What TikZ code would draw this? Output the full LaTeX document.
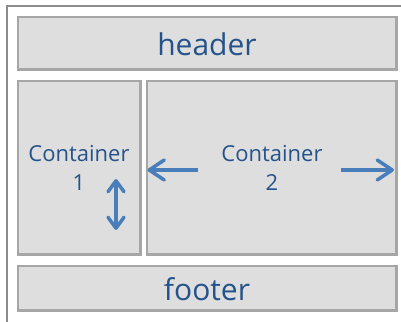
\documentclass[tikz,border=0pt]{standalone}
\usepackage{fontspec}
\setmainfont{Open Sans}
\usetikzlibrary{arrows.meta}
\definecolor{boxfill}{HTML}{DEDEDE}
\definecolor{boxline}{HTML}{A6A6A6}
\definecolor{frameline}{HTML}{8C8C8C}
\definecolor{txt}{HTML}{24528A}
\definecolor{arr}{HTML}{4A7EBB}
\tikzset{
  px/.style={x=1pt,y=-1pt},
  area/.style={draw=boxline,fill=boxfill,line width=2.5pt},
  bigtxt/.style={text=txt,font=\fontsize{30}{36}\selectfont,inner sep=0pt,anchor=base},
  smalltxt/.style={text=txt,font=\fontsize{22}{29}\selectfont,inner sep=0pt,align=center,anchor=north},
  hbarb/.style={draw=arr,line width=3.5pt,-{Straight Barb[length=15pt,width=20pt,round]}},
  vbarb/.style={draw=arr,line width=3.5pt,{Straight Barb[length=11pt,width=16pt,round]}-{Straight Barb[length=11pt,width=16pt,round]}}
}
\begin{document}
\begin{tikzpicture}[px]
\useasboundingbox (0,0) rectangle (401,321);
\begin{scope}
\clip (0,0) rectangle (401,321);
\draw[frameline,line width=2pt] (7,6) rectangle (420,340);
\end{scope}
\draw[area] (18,17) rectangle (396.5,69.5);
\node[bigtxt] (header) at (207,56) {header};
\draw[area] (18,81) rectangle (140.5,254.5);
\draw[area] (147,81) rectangle (396.5,254.5);
\draw[area] (18,266) rectangle (396.5,310.5);
\node[bigtxt] (footer) at (207,300) {footer};
\node[smalltxt] (c1) at (79,145) {Container\\1};
\node[smalltxt] (c2) at (272,145) {Container\\2};
\coordinate (c2w) at (147.5,170);
\coordinate (c2wstart) at (198,170);
\coordinate (c2estart) at (341,170);
\coordinate (c2e) at (394,170);
\coordinate (c1up) at (116,179);
\coordinate (c1down) at (116,230);
\draw[hbarb] (c2wstart) -- (c2w);
\draw[hbarb] (c2estart) -- (c2e);
\draw[vbarb] (c1down) -- (c1up);
\end{tikzpicture}
\end{document}
